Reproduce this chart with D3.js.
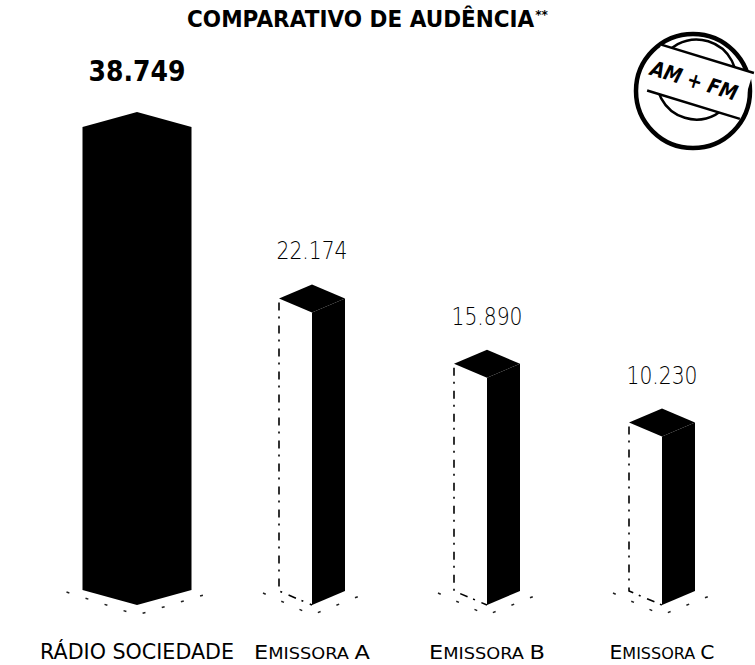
<!DOCTYPE html>
<html>
<head>
<meta charset="utf-8">
<script src="https://cdn.jsdelivr.net/npm/d3@7"></script>
<style>
body { margin: 0; background: #fff; }
svg { display: block; }
</style>
</head>
<body>
<svg></svg>
<script>
// Chart data
const categories = ["RÁDIO SOCIEDADE", "Emissora A", "Emissora B", "Emissora C"]
const audience = [38749, 22174, 15890, 10230]
const title_text = "COMPARATIVO DE AUDÊNCIA"
const title_mark = "**"
const stamp_text = "AM + FM"

function draw_chart(width = 755, height = 665) {
    const base_y = 605

    const svg = d3.select("svg")
        .attr("width", width)
        .attr("height", height)

    // Scales
    const x = d3.scalePoint()
        .domain(categories)
        .range([137, 662])

    const y = d3.scaleLinear()
        .domain([0, 40000])
        .range([base_y - 90, base_y - 506])

    // brazilian number format: 38.749
    const fmt = d3.formatLocale({decimal: ",", thousands: ".", grouping: [3], currency: ["R$ ", ""]})
        .format(",d")

    const rows = categories.map((c, i) => ({cat: c, value: audience[i], idx: i}))

    // Title, asterisks raised in the same text
    const title = svg.append("text")
        .attr("x", 187)
        .attr("y", 27)
        .attr("font-family", "DejaVu Sans")
        .attr("font-weight", "bold")
        .attr("font-size", 23)
        .attr("textLength", 361)
        .attr("lengthAdjust", "spacingAndGlyphs")
        .attr("fill", "#000")
    title.append("tspan").text(title_text)
    title.append("tspan")
        .attr("font-size", 13)
        .attr("dx", 1)
        .attr("dy", -8)
        .text(title_mark)

    const bars = svg.append("g")

    rows.forEach(function(d) {
        const cx = x(d.cat)
        const top = y(d.value)
        const g = bars.append("g")

        if (d.idx === 0) {
            // big front hexagon bar
            const w = 54.5, dd = 15
            g.append("path")
                .attr("d", d3.line()([
                    [cx - w, top + dd], [cx, top], [cx + w, top + dd],
                    [cx + w, base_y - dd], [cx, base_y], [cx - w, base_y - dd]
                ]) + "Z")
                .attr("fill", "#000")
            ground_marks(g, cx, w, dd)
        } else {
            const w = 33, dd = 14
            // left face (white, sketchy outline)
            g.append("path")
                .attr("d", d3.line()([
                    [cx - w, top + dd], [cx, top + 2 * dd], [cx, base_y], [cx - w, base_y - dd]
                ]) + "Z")
                .attr("fill", "#fff")
            g.append("path")
                .attr("d", d3.line()([[cx - w, top + dd + 4], [cx - w, base_y - dd], [cx, base_y]]))
                .attr("fill", "none")
                .attr("stroke", "#000")
                .attr("stroke-width", 1.6)
                .attr("stroke-dasharray", "8,6,2,7")
            // right face
            g.append("path")
                .attr("d", d3.line()([
                    [cx, top + 2 * dd], [cx + w, top + dd], [cx + w, base_y - dd], [cx, base_y]
                ]) + "Z")
                .attr("fill", "#000")
            // top face
            g.append("path")
                .attr("d", d3.line()([
                    [cx - w, top + dd], [cx, top], [cx + w, top + dd], [cx, top + 2 * dd]
                ]) + "Z")
                .attr("fill", "#000")
            ground_marks(g, cx, w, dd)
        }

        // value label
        g.append("text")
            .attr("x", cx)
            .attr("y", top - (d.idx === 0 ? 31 : 25))
            .attr("text-anchor", "middle")
            .attr("font-family", "DejaVu Sans")
            .attr("font-weight", d.idx === 0 ? "bold" : 200)
            .attr("font-size", d.idx === 0 ? 29 : 24)
            .attr("textLength", d.idx === 0 ? 97 : 71)
            .attr("lengthAdjust", "spacingAndGlyphs")
            .attr("fill", "#000")
            .text(fmt(d.value))

        // category label, emissoras in small caps
        const label = g.append("text")
            .attr("x", cx)
            .attr("y", 659)
            .attr("text-anchor", "middle")
            .attr("font-family", "DejaVu Sans")
            .attr("font-size", d.idx === 0 ? 21 : 19)
            .attr("textLength", d.idx === 0 ? 194 : (d.idx === 3 ? 105 : 116))
            .attr("lengthAdjust", "spacingAndGlyphs")
            .attr("fill", "#000")

        if (d.idx === 0) {
            label.text(d.cat)
        } else {
            const parts = d.cat.split(" ")
            label.append("tspan").text(parts[0][0])
            label.append("tspan").attr("font-size", 15).text(parts[0].slice(1).toUpperCase() + " ")
            label.append("tspan").text(parts[1])
        }
    })

    function ground_marks(g, cx, w, dd) {
        // scattered shadow marks round the base
        g.append("path")
            .attr("d", d3.line()([
                [cx - w - 16, base_y - dd + 2], [cx, base_y + 10], [cx + w + 22, base_y - dd + 2]
            ]))
            .attr("fill", "none")
            .attr("stroke", "#222")
            .attr("stroke-width", 1.5)
            .attr("stroke-dasharray", "3,17")
    }

    // AM + FM stamp
    const stamp = svg.append("g")
        .attr("transform", "translate(693,91)")

    stamp.append("circle")
        .attr("r", 57)
        .attr("fill", "none")
        .attr("stroke", "#000")
        .attr("stroke-width", 4.5)

    const inner = stamp.append("g")
        .attr("transform", "rotate(17)")

    inner.append("circle")
        .attr("cy", -12)
        .attr("r", 40)
        .attr("fill", "none")
        .attr("stroke", "#000")
        .attr("stroke-width", 2.5)

    inner.append("rect")
        .attr("x", -44)
        .attr("y", -35)
        .attr("width", 96)
        .attr("height", 48)
        .attr("fill", "#fff")

    inner.selectAll("line.band")
        .data([-35, 13])
        .enter()
        .append("line")
        .attr("class", "band")
        .attr("x1", -44)
        .attr("x2", 53)
        .attr("y1", v => v)
        .attr("y2", v => v)
        .attr("stroke", "#000")
        .attr("stroke-width", 2.5)

    inner.append("text")
        .attr("x", -2)
        .attr("y", -3)
        .attr("text-anchor", "middle")
        .attr("font-family", "DejaVu Sans")
        .attr("font-weight", "bold")
        .attr("font-style", "italic")
        .attr("font-size", 21)
        .attr("textLength", 90)
        .attr("lengthAdjust", "spacingAndGlyphs")
        .attr("fill", "#000")
        .text(stamp_text)
}

window.onload = function() {
    draw_chart()
}
</script>
</body>
</html>
